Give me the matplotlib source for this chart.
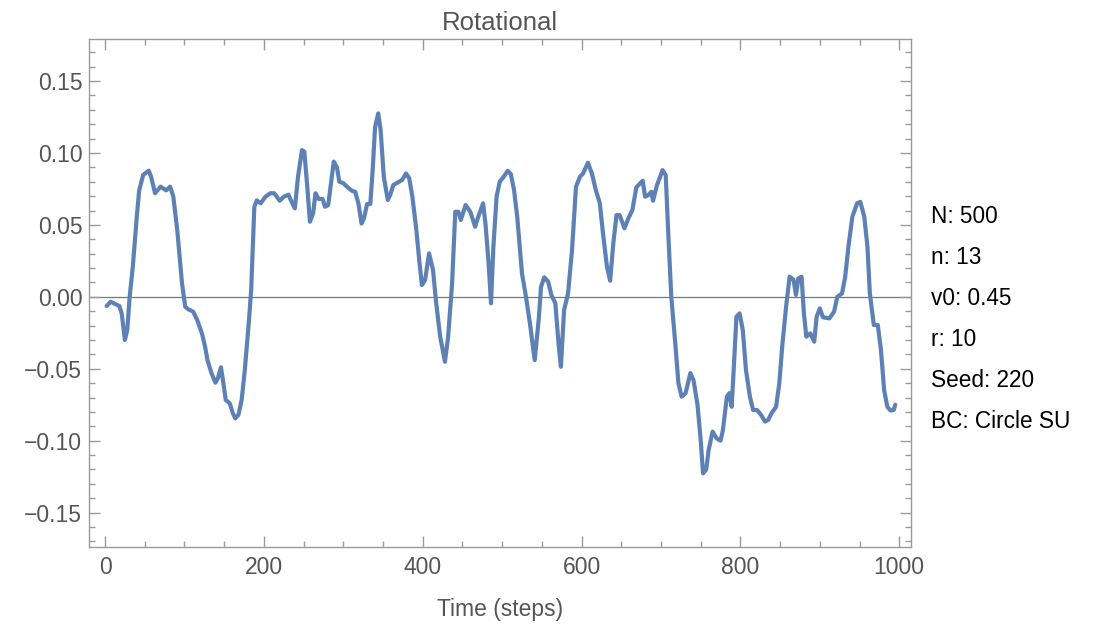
import numpy as np
import matplotlib
matplotlib.use("Agg")
import matplotlib.pyplot as plt
from matplotlib.ticker import MultipleLocator

plt.rcParams['font.family'] = ['Liberation Sans', 'DejaVu Sans']

# rotational order parameter sampled along the run
steps = [2, 7, 13, 18, 21, 25, 28, 31, 35, 40, 43, 48, 55, 58, 63, 70, 77, 82, 86, 91,
         97, 101, 105, 111, 116, 122, 126, 129, 134, 139, 142, 146, 149, 152, 157, 161, 164, 168, 172, 176,
         181, 184, 188, 191, 196, 202, 208, 213, 220, 225, 231, 235, 239,
         243, 248, 251, 255, 258, 262, 265, 269, 274, 277, 281, 284, 288, 292, 295, 300, 307,
         311, 315, 319, 323, 326, 330, 334, 337, 340, 344, 347, 351, 356, 359, 363, 368, 374, 379, 383, 387,
         392, 396, 399, 403, 408, 413, 417, 422, 428, 432, 437, 441, 445, 448, 454, 460, 466, 470, 476, 479,
         483, 486, 489, 493, 497,
         502, 507, 511, 515, 519, 525, 530, 535, 541, 546, 549, 553, 558, 562, 567, 571, 574, 578, 583, 588,
         593, 598, 602, 608, 613, 618, 623, 627, 632, 636, 640, 644, 648, 654, 659, 664, 669, 673, 677, 680,
         684, 688, 690, 695, 699, 702, 706, 709, 713, 718, 722, 726, 731, 737, 741, 746,
         750, 753, 757, 760, 765, 770, 775, 778, 783, 786, 789, 792, 795, 799, 803, 807, 812, 816, 821, 826,
         831, 835, 839, 845, 849, 853, 858, 862, 867, 870, 873, 877, 880, 883, 888, 893, 896, 900, 904, 912,
         918, 922, 928, 932, 936, 941, 947, 951, 956, 960, 963, 968, 973, 977, 981, 985, 989, 993, 995]

rot = [-0.0064, -0.0034, -0.0050, -0.0064, -0.0115, -0.0300, -0.0230, 0.0000, 0.0210, 0.0557,
       0.0740, 0.0847, 0.0877, 0.0835, 0.0720, 0.0766, 0.0740, 0.0766, 0.0696, 0.0460,
       0.0090, -0.0069, -0.0087, -0.0103, -0.0160, -0.0254, -0.0347, -0.0440, -0.0530, -0.0597,
       -0.0567, -0.0490, -0.0600, -0.0717, -0.0740, -0.0810, -0.0845, -0.0820, -0.0717, -0.0509,
       -0.0180, 0.0047, 0.0626, 0.0670, 0.0650, 0.0696, 0.0720, 0.0720, 0.0668, 0.0696, 0.0710, 0.0660, 0.0615,
       0.0835, 0.1020, 0.1008, 0.0740, 0.0522, 0.0580, 0.0720, 0.0680, 0.0680, 0.0626,
       0.0638, 0.0766, 0.0940, 0.0900, 0.0800, 0.0790, 0.0754,
       0.0737, 0.0730, 0.0650, 0.0510, 0.0545, 0.0645, 0.0645, 0.0880, 0.1180, 0.1275,
       0.1160, 0.0835, 0.0673, 0.0707, 0.0777, 0.0793, 0.0812, 0.0858, 0.0824, 0.0696,
       0.0464, 0.0233, 0.0082, 0.0117, 0.0302, 0.0186, -0.0045, -0.0277, -0.0451, -0.0277,
       0.0094, 0.0591, 0.0591, 0.0534, 0.0638, 0.0591, 0.0487, 0.0557, 0.0650, 0.0510,
       0.0233, -0.0045, 0.0348, 0.0696, 0.0800,
       0.0835, 0.0876, 0.0853, 0.0742, 0.0557, 0.0163, 0.0000, -0.0184, -0.0440, -0.0161,
       0.0070, 0.0136, 0.0105, 0.0013, -0.0045, -0.0323, -0.0486, -0.0092, 0.0024, 0.0325,
       0.0765, 0.0835, 0.0858, 0.0932, 0.0858, 0.0742, 0.0650, 0.0441, 0.0209, 0.0112,
       0.0372, 0.0568, 0.0568, 0.0476, 0.0546, 0.0603, 0.0761, 0.0784, 0.0807, 0.0696,
       0.0707, 0.0730, 0.0668, 0.0777, 0.0835, 0.0881, 0.0846, 0.0464, 0.0000, -0.0323,
       -0.0601, -0.0694, -0.0670, -0.0530, -0.0580, -0.0750,
       -0.0995, -0.1227, -0.1200, -0.1065, -0.0937, -0.0983, -0.1000, -0.0926, -0.0694, -0.0670,
       -0.0764, -0.0462, -0.0138, -0.0115, -0.0230, -0.0509, -0.0694, -0.0787, -0.0787, -0.0820,
       -0.0867, -0.0856, -0.0810, -0.0764, -0.0600, -0.0323, -0.0045, 0.0140, 0.0117, 0.0013,
       0.0128, 0.0140, -0.0115, -0.0277, -0.0254, -0.0312, -0.0138, -0.0080, -0.0142, -0.0150,
       -0.0103, 0.0000, 0.0024, 0.0140, 0.0348, 0.0557, 0.0650, 0.0660, 0.0557, 0.0348,
       0.0024, -0.0196, -0.0196, -0.0370, -0.0648, -0.0764, -0.0790, -0.0787, -0.0750]

params = ["N: 500", "n: 13", "v0: 0.45", "r: 10", "Seed: 220", "BC: Circle SU"]

frame_col = '#9a9a9a'
label_col = '#555555'

fig = plt.figure(figsize=(11.08, 6.29), dpi=100)
ax = fig.add_axes([0.0806, 0.1308, 0.7413, 0.8067])

ax.axhline(0, color='#777777', lw=0.9, zorder=1)
ax.plot(steps, rot, color='#5E81B5', lw=3.0, solid_joinstyle='round',
        solid_capstyle='round', zorder=3)

ax.set_xlim(-19.8, 1014.4)
ax.set_ylim(-0.1737, 0.179)

ax.xaxis.set_major_locator(MultipleLocator(200))
ax.xaxis.set_minor_locator(MultipleLocator(50))
ax.yaxis.set_major_locator(MultipleLocator(0.05))
ax.yaxis.set_minor_locator(MultipleLocator(0.01))
ax.yaxis.set_major_formatter(plt.FuncFormatter(lambda v, p: f"{v:.2f}".replace('-', '\u2212')))

for s in ax.spines.values():
    s.set_color(frame_col)
    s.set_linewidth(1.0)

ax.tick_params(which='both', direction='in', top=True, right=True,
               color=frame_col, width=1.0, labelcolor=label_col, labelsize=16.5)
ax.tick_params(which='major', length=8)
ax.tick_params(which='minor', length=4.5)
ax.tick_params(axis='x', pad=7)
ax.tick_params(axis='y', pad=5)

ax.set_title("Rotational", fontsize=18.5, color=label_col, pad=7)
ax.set_xlabel("Time (steps)", fontsize=16.5, color=label_col, labelpad=13)

# run parameters listed beside the frame
for i, txt in enumerate(params):
    fig.text(931 / 1108, 1 - (216.7 + 41 * i) / 629, txt, fontsize=16.3,
             color='black', ha='left', va='center')

fig.savefig("out.png", dpi=100)
